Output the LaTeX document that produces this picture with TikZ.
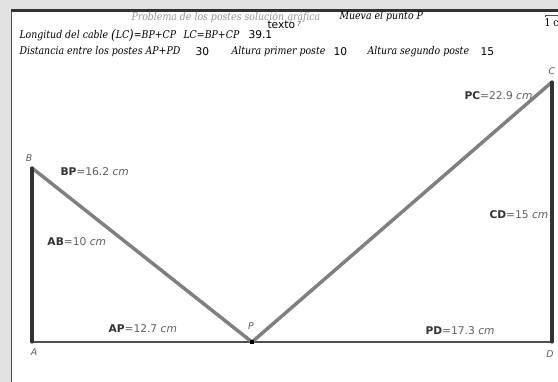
\documentclass[tikz,border=0pt]{standalone}
\usepackage{fontspec}
\usetikzlibrary{calc}
\setmainfont{DejaVu Sans}
\newfontfamily\geoserif{DejaVu Serif}[FakeStretch=0.88]
\definecolor{postdark}{RGB}{51,51,51}
\definecolor{floorgray}{RGB}{80,80,80}
\definecolor{cablegray}{RGB}{128,128,128}
\definecolor{panelgray}{RGB}{225,225,225}
\definecolor{labelgray}{RGB}{95,95,95}
\definecolor{titlegray}{RGB}{150,150,150}
\newcommand{\seglabel}[2]{{\bfseries\color{postdark}#1}{\color{labelgray}=#2~\textit{cm}}}

\tikzset{every picture/.style={line width=0.75pt}}

\begin{document}
\begin{tikzpicture}[x=0.75pt,y=0.75pt,yscale=-1,xscale=1,
  txt/.style={anchor=west,inner sep=0.75pt,font=\fontsize{8}{9}\selectfont},
  geotxt/.style={anchor=west,inner sep=0.75pt,font=\geoserif\itshape\fontsize{8}{9}\selectfont},
  ptname/.style={inner sep=0.75pt,text=labelgray,font=\itshape\fontsize{7}{8}\selectfont},
  post/.style={draw=postdark,line width=2.4pt},
  cable/.style={draw=cablegray,line width=2.6pt}]
\useasboundingbox (0,0) rectangle (558,382);
\clip (0,0) rectangle (558,382);

%Background
\fill[panelgray] (0,0) rectangle (558,382);
\fill[white] (11,10) rectangle (558,382);
\draw[floorgray,line width=0.75pt] (11,10) -- (11,382);
\draw[postdark,line width=2.2pt] (11,10.5) -- (558,10.5);

%Points
\coordinate (A) at (32,342);
\coordinate (B) at (32,168);
\coordinate (P) at (252,342);
\coordinate (C) at (552,82);
\coordinate (D) at (552,342);

%Straight Lines
\draw[draw=floorgray,line width=2.2pt] (A) -- (D);
%Straight Lines
\draw[cable] (B) -- (P);
%Straight Lines
\draw[cable] (P) -- (C);
%Straight Lines
\draw[post,line cap=round] (A) -- (B);
%Straight Lines
\draw[post,line cap=round] (D) -- (C);
\fill[black] ($(P)+(-2.2,-2.2)$) rectangle ($(P)+(2.2,2.2)$);

% Point names
\node[ptname] (nB) at (29,158) {B};
\node[ptname] (nA) at (34,352) {A};
\node[ptname] (nP) at (251,326) {P};
\node[ptname] (nC) at (552,71) {C};
\node[ptname] (nD) at (550,354) {D};

% Segment labels
\node[txt] (lBP) at (59,172) {\seglabel{BP}{16.2}};
\node[txt] (lAB) at (46,242) {\seglabel{AB}{10}};
\node[txt] (lAP) at (107,329) {\seglabel{AP}{12.7}};
\node[txt] (lPD) at (424,331) {\seglabel{PD}{17.3}};
\node[txt] (lCD) at (488,215) {\seglabel{CD}{15}};
\node[txt] (lPC) at (463,96) {\seglabel{PC}{22.9}};

% Text Node
\node[geotxt,text=titlegray] (title) at (130,17) {Problema de los postes solución gráfica};
% Text Node
\node[geotxt] (move) at (338,17) {Mueva el punto P};
% Text Node
\node[txt] (texto) at (266,25) {texto\,\raisebox{2pt}{\fontsize{5}{5}\selectfont\itshape\color{labelgray}7}};
% Text Node
\node[geotxt] (cable) at (18,35) {Longitud del cable \raisebox{-0.5pt}{\fontsize{10}{10}\selectfont(}LC\raisebox{-0.5pt}{\fontsize{10}{10}\selectfont)}=BP+CP};
\node[geotxt] (cablef) at (182,35) {LC=BP+CP};
\node[txt] (cablev) at (247,35) {39.1};
% Text Node
\node[geotxt] (dist) at (18,52) {Distancia entre los postes AP+PD};
\node[txt] (distv) at (194,52) {30};
\node[geotxt] (hone) at (230,52) {Altura primer poste};
\node[txt] (honev) at (332,52) {10};
\node[geotxt] (htwo) at (366,52) {Altura segundo poste};
\node[txt] (htwov) at (479,52) {15};

% Scale bar
\coordinate (s1) at (545,15);
\coordinate (s2) at (558,15);
\draw[floorgray,line width=0.6pt] (s1) -- (s2);
\draw[floorgray,line width=0.6pt] (s1) -- ++(0,2);
\node[anchor=west,inner sep=0.75pt,font=\geoserif\fontsize{8}{9}\selectfont] (unit) at (543,23) {1 cm};
\end{tikzpicture}
\end{document}
